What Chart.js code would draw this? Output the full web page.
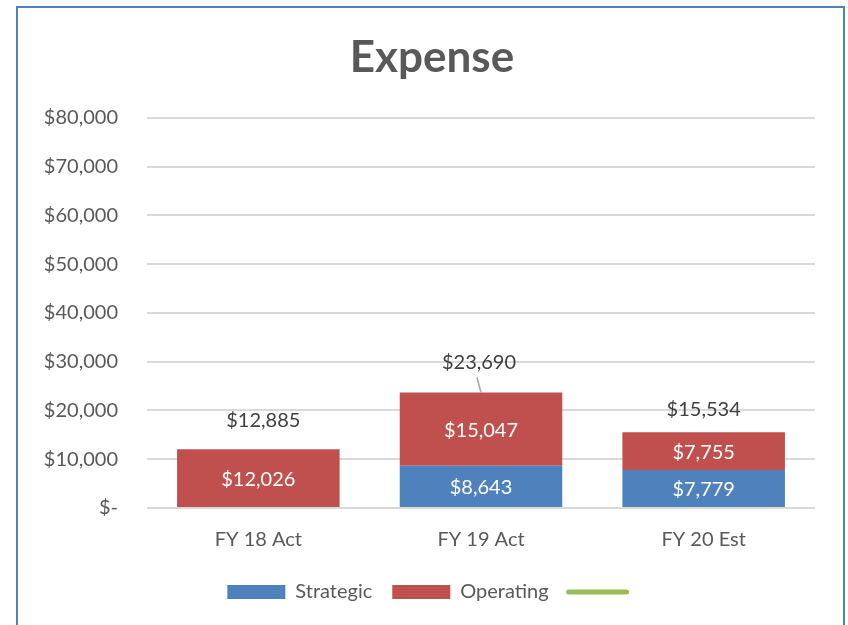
<!DOCTYPE html>
<html>
<head>
<meta charset="utf-8">
<script src="https://cdn.jsdelivr.net/npm/chart.js@4"></script>
<style>
  html, body { margin: 0; padding: 0; background: #fff; }
  #wrap { position: relative; width: 848px; height: 625px; overflow: hidden; }
  #frame { position: absolute; left: 16px; top: 6px; width: 829px; height: 700px; border: 2px solid #4F81BD; box-sizing: border-box; pointer-events: none; }
  canvas { position: absolute; left: 0; top: 0; }
</style>
</head>
<body>
<div id="wrap">
  <canvas id="c" width="848" height="625"></canvas>
  <div id="frame"></div>
</div>
<script>
const categories = ['FY 18 Act', 'FY 19 Act', 'FY 20 Est'];
const strategic = [0, 8643, 7779];
const operating = [12026, 15047, 7755];
const totals = [12885, 23690, 15534];
const yTicks = [0, 10000, 20000, 30000, 40000, 50000, 60000, 70000, 80000];

const FONT = 'Lato, "Open Sans", sans-serif';
const fmt = v => v === 0 ? '$-' : '$' + v.toLocaleString('en-US');

const barLabels = {
  id: 'barLabels',
  afterDatasetsDraw(chart) {
    const ctx = chart.ctx;
    ctx.save();
    ctx.font = '20px ' + FONT;
    ctx.fillStyle = '#FFFFFF';
    ctx.textAlign = 'center';
    ctx.textBaseline = 'middle';
    [0, 1].forEach(di => {
      const meta = chart.getDatasetMeta(di);
      meta.data.forEach((bar, i) => {
        const v = chart.data.datasets[di].data[i];
        if (!v) return;
        ctx.fillText(fmt(v), bar.x, (bar.y + bar.base) / 2 + 1);
      });
    });
    const opts = chart.options.plugins.totalLabels;
    const meta = chart.getDatasetMeta(2);
    ctx.fillStyle = '#404040';
    meta.data.forEach((pt, i) => {
      const v = chart.data.datasets[2].data[i];
      const lx = pt.x + opts.dx[i], ly = pt.y - opts.dy[i];
      if (opts.leader[i]) {
        ctx.strokeStyle = '#A6A6A6';
        ctx.lineWidth = 1.5;
        ctx.beginPath();
        ctx.moveTo(pt.x - 4, ly + 15);
        ctx.lineTo(pt.x, pt.y);
        ctx.stroke();
      }
      ctx.fillText(fmt(v), lx, ly);
    });
    ctx.restore();
  }
};

new Chart(document.getElementById('c'), {
  data: {
    labels: categories,
    datasets: [
      { type: 'bar', label: 'Strategic', data: strategic, backgroundColor: '#4F81BD', borderWidth: 0, stack: 's', order: 2 },
      { type: 'bar', label: 'Operating', data: operating, backgroundColor: '#C0504D', borderWidth: 0, stack: 's', order: 2 },
      { type: 'line', label: '', data: totals, borderColor: '#9BBB59', backgroundColor: '#9BBB59', borderWidth: 5, showLine: false, pointRadius: 0, stack: 't', order: 1 }
    ]
  },
  plugins: [barLabels],
  options: {
    responsive: false,
    animation: false,
    devicePixelRatio: 1,
    layout: { padding: { left: 16, right: 0, top: 0, bottom: 13 } },
    datasets: { bar: { barPercentage: 0.73, categoryPercentage: 1 } },
    scales: {
      x: {
        stacked: true,
        grid: { display: false, drawTicks: false },
        border: { display: false },
        ticks: { color: '#595959', font: { family: FONT, size: 20 }, padding: 20 },
        afterFit(s) { s.height = 54; }
      },
      y: {
        stacked: true,
        min: 0, max: 80000,
        afterBuildTicks(s) { s.ticks = yTicks.map(v => ({ value: v })); },
        grid: { color: '#D9D9D9', lineWidth: 2, drawTicks: false },
        border: { display: false },
        ticks: { color: '#595959', font: { family: FONT, size: 20 }, padding: 29, callback: v => fmt(v) },
        afterFit(s) { s.width = 131; }
      },
      y2: {
        position: 'right',
        min: 0, max: 1,
        grid: { display: false, drawTicks: false },
        border: { display: false },
        ticks: { display: false },
        afterFit(s) { s.width = 33; }
      }
    },
    plugins: {
      title: {
        display: true, text: 'Expense', color: '#595959',
        font: { family: FONT, size: 44, weight: 'bold' },
        padding: { top: 31, bottom: 34 }
      },
      legend: {
        position: 'bottom',
        labels: {
          usePointStyle: true, pointStyleWidth: 58, boxHeight: 14, padding: 20,
          color: '#595959', font: { family: FONT, size: 20 },
          generateLabels(chart) {
            return chart.data.datasets.map((d, i) => ({
              text: d.label,
              fillStyle: d.backgroundColor,
              strokeStyle: i === 2 ? d.borderColor : d.backgroundColor,
              lineWidth: i === 2 ? 5 : 0,
              lineCap: 'round',
              pointStyle: i === 2 ? 'line' : 'rect',
              hidden: false,
              datasetIndex: i,
              fontColor: '#595959'
            }));
          }
        }
      },
      tooltip: { enabled: false },
      totalLabels: { dx: [5, -2, 0], dy: [25, 30, 23], leader: [false, true, false] }
    }
  }
});
</script>
</body>
</html>
